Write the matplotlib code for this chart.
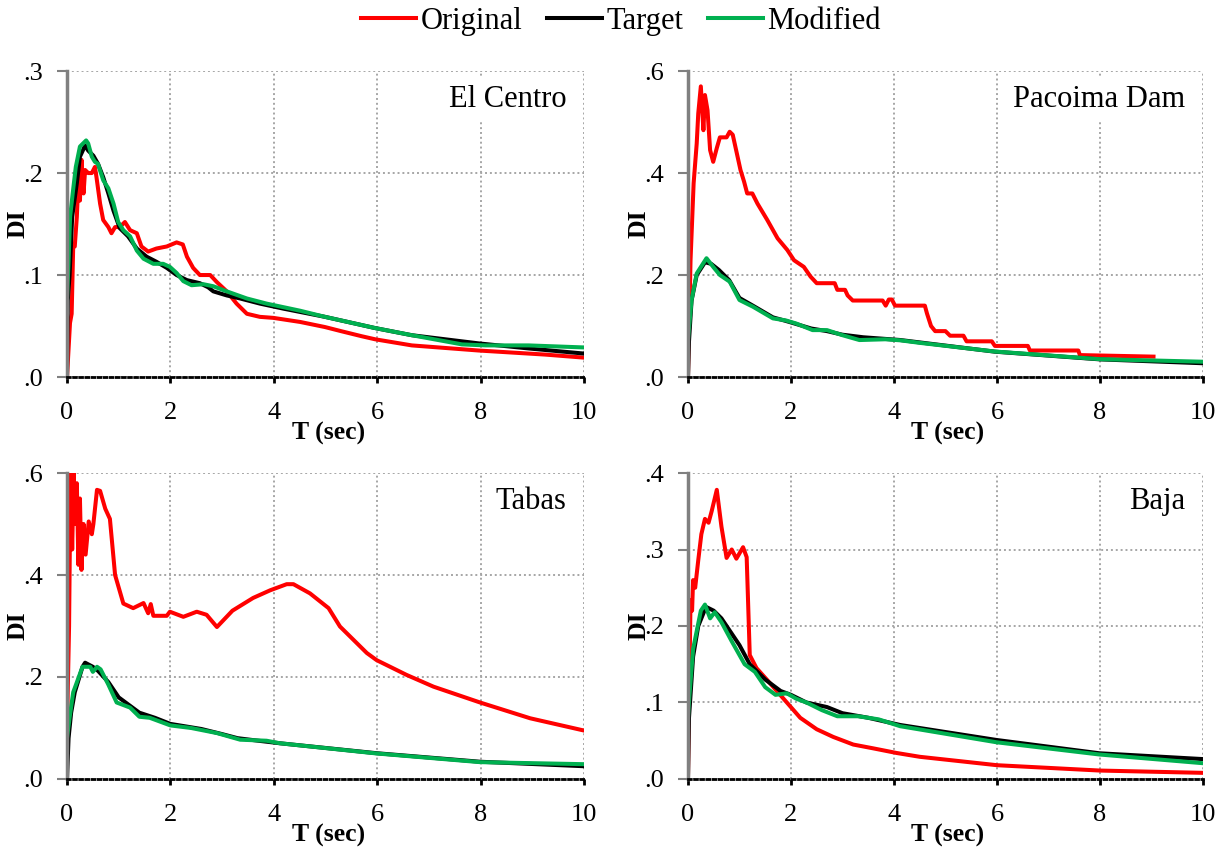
import matplotlib
matplotlib.use("Agg")
import matplotlib.pyplot as plt
from matplotlib.lines import Line2D
from matplotlib.ticker import FuncFormatter

plt.rcParams['font.family'] = ['Liberation Serif', 'DejaVu Serif']

# ---- El Centro ----
elc_orig_x = [0, 0.058, 0.09, 0.12, 0.15, 0.19, 0.22, 0.25, 0.28, 0.32, 0.35, 0.41, 0.48, 0.54, 0.57,
              0.64, 0.7, 0.8, 0.86, 0.93, 1.02, 1.12, 1.22, 1.35, 1.44, 1.57, 1.73, 1.93, 2.12, 2.24,
              2.32, 2.44, 2.57, 2.77, 2.9, 3.09, 3.28, 3.48, 3.73, 3.99, 4.25, 4.51, 4.99, 5.3, 5.7,
              5.96, 6.67, 7.96, 9.25, 10]
elc_orig_y = [0, 0.053, 0.062, 0.128, 0.128, 0.157, 0.193, 0.173, 0.213, 0.18, 0.203, 0.2, 0.2, 0.206, 0.196,
              0.17, 0.154, 0.147, 0.141, 0.147, 0.147, 0.152, 0.144, 0.141, 0.128, 0.123, 0.126, 0.128, 0.132, 0.13,
              0.118, 0.107, 0.1, 0.1, 0.093, 0.084, 0.072, 0.062, 0.059, 0.058, 0.056, 0.054, 0.049, 0.045, 0.04,
              0.037, 0.031, 0.026, 0.022, 0.019]
elc_targ_x = [0, 0.015, 0.05, 0.1, 0.19, 0.25, 0.35, 0.41, 0.51, 0.6, 0.7, 0.8, 0.9, 1.02, 1.18, 1.35,
              1.54, 1.73, 1.93, 2.12, 2.32, 2.57, 2.73, 2.83, 3.09, 3.35, 3.73, 4.19, 4.99, 5.96, 6.67,
              7.96, 8.93, 10]
elc_targ_y = [0, 0.075, 0.1, 0.157, 0.19, 0.216, 0.227, 0.222, 0.217, 0.209, 0.196, 0.18, 0.163, 0.146, 0.138, 0.126,
              0.118, 0.113, 0.107, 0.1, 0.095, 0.092, 0.088, 0.084, 0.08, 0.077, 0.072, 0.067, 0.059, 0.048, 0.041,
              0.033, 0.028, 0.023]
elc_mod_x = [0, 0.03, 0.06, 0.11, 0.17, 0.25, 0.37, 0.41, 0.48, 0.54, 0.6, 0.7, 0.8, 0.9, 0.99, 1.09,
             1.22, 1.35, 1.48, 1.67, 1.86, 1.99, 2.12, 2.25, 2.41, 2.64, 2.83, 3.09, 3.48, 3.86, 4.51,
             4.99, 5.96, 6.67, 7.64, 8.1, 8.93, 10]
elc_mod_y = [0.077, 0.113, 0.157, 0.18, 0.206, 0.226, 0.232, 0.229, 0.216, 0.211, 0.209, 0.193, 0.185, 0.17, 0.152, 0.144,
             0.138, 0.124, 0.116, 0.111, 0.111, 0.108, 0.102, 0.094, 0.09, 0.091, 0.089, 0.084, 0.077, 0.072, 0.065,
             0.059, 0.048, 0.041, 0.032, 0.031, 0.031, 0.029]

# ---- Pacoima Dam ----
pac_orig_x = [0, 0.05, 0.11, 0.17, 0.2, 0.25, 0.3, 0.33, 0.38, 0.43, 0.49, 0.56, 0.62, 0.75, 0.81, 0.87,
              1.02, 1.09, 1.15, 1.25, 1.35, 1.54, 1.74, 1.93, 2.06, 2.25, 2.38, 2.5, 2.85, 2.9, 3.05,
              3.1, 3.2, 3.78, 3.84, 3.9, 3.96, 4.02, 4.6, 4.64, 4.72, 4.8, 5.0, 5.09, 5.35, 5.41, 5.9,
              5.96, 6.6, 6.64, 7.58, 7.61, 9.04]
pac_orig_y = [0, 0.229, 0.38, 0.458, 0.517, 0.57, 0.484, 0.553, 0.523, 0.445, 0.422, 0.449, 0.47, 0.47, 0.481, 0.475,
              0.406, 0.383, 0.36, 0.36, 0.34, 0.308, 0.272, 0.249, 0.229, 0.216, 0.197, 0.184, 0.184, 0.171, 0.171,
              0.16, 0.15, 0.15, 0.14, 0.152, 0.152, 0.14, 0.14, 0.125, 0.1, 0.09, 0.09, 0.081, 0.081, 0.07, 0.07,
              0.061, 0.061, 0.052, 0.052, 0.043, 0.04]
pac_targ_x = [0, 0.02, 0.07, 0.17, 0.33, 0.45, 0.6, 0.8, 1.0, 1.26, 1.65, 1.9, 2.4, 2.7, 3.0, 3.4, 3.8,
              4.12, 5.96, 8.0, 10]
pac_targ_y = [0, 0.07, 0.15, 0.2, 0.225, 0.222, 0.21, 0.19, 0.155, 0.14, 0.117, 0.11, 0.095, 0.09, 0.083, 0.078, 0.075,
              0.0726, 0.0497, 0.0346, 0.027]
pac_mod_x = [0, 0.07, 0.17, 0.36, 0.49, 0.62, 0.81, 1.0, 1.26, 1.65, 1.9, 2.1, 2.42, 2.7, 3.0, 3.33,
             3.83, 4.12, 4.5, 5.96, 8.0, 10]
pac_mod_y = [0.0725, 0.151, 0.203, 0.233, 0.216, 0.2, 0.187, 0.151, 0.138, 0.115, 0.111, 0.105, 0.092, 0.092, 0.082, 0.0725,
             0.074, 0.072, 0.067, 0.05, 0.035, 0.03]

# ---- Tabas ----
tab_orig_x = [0, 0.04, 0.07, 0.1, 0.13, 0.16, 0.19, 0.22, 0.25, 0.28, 0.32, 0.36, 0.42, 0.48, 0.51, 0.58,
              0.64, 0.74, 0.83, 0.93, 1.09, 1.28, 1.48, 1.57, 1.62, 1.67, 1.93, 1.99, 2.25, 2.51, 2.7,
              2.9, 3.2, 3.6, 3.93, 4.25, 4.38, 4.7, 5.06, 5.28, 5.8, 5.99, 6.57, 7.09, 7.99, 8.96, 10]
tab_orig_y = [0.1, 0.3, 0.62, 0.45, 0.6, 0.5, 0.58, 0.42, 0.55, 0.41, 0.5, 0.44, 0.505, 0.48, 0.5, 0.567,
              0.565, 0.53, 0.51, 0.4, 0.344, 0.335, 0.345, 0.325, 0.343, 0.32, 0.32, 0.328, 0.318, 0.328, 0.322,
              0.298, 0.33, 0.355, 0.37, 0.382, 0.382, 0.364, 0.335, 0.299, 0.247, 0.233, 0.204, 0.181, 0.15, 0.119, 0.095]
tab_targ_x = [0, 0.03, 0.08, 0.15, 0.3, 0.35, 0.5, 0.6, 0.8, 1.0, 1.2, 1.4, 1.7, 2.0, 2.3, 2.6, 3.0,
              3.3, 3.7, 4.12, 5.99, 7.99, 10]
tab_targ_y = [0, 0.08, 0.13, 0.17, 0.22, 0.228, 0.22, 0.212, 0.19, 0.16, 0.145, 0.13, 0.12, 0.108, 0.103, 0.098, 0.088,
              0.08, 0.075, 0.07, 0.0505, 0.0338, 0.025]
tab_mod_x = [0, 0.05, 0.12, 0.3, 0.45, 0.5, 0.58, 0.65, 0.8, 0.96, 1.22, 1.4, 1.6, 2.0, 2.4, 2.9, 3.35,
             3.86, 4.12, 5.99, 7.99, 10]
tab_mod_y = [0.08, 0.12, 0.17, 0.22, 0.22, 0.21, 0.22, 0.215, 0.185, 0.15, 0.14, 0.122, 0.12, 0.105, 0.1, 0.09, 0.077,
             0.075, 0.07, 0.05, 0.033, 0.029]

# ---- Baja ----
baj_orig_x = [0, 0.05, 0.08, 0.1, 0.14, 0.2, 0.26, 0.33, 0.4, 0.46, 0.56, 0.65, 0.75, 0.85, 0.94, 1.07,
              1.14, 1.2, 1.33, 1.53, 1.66, 1.92, 2.18, 2.5, 2.82, 3.21, 3.6, 4.05, 4.5, 6.0, 8.0, 10]
baj_orig_y = [0, 0.234, 0.22, 0.26, 0.25, 0.286, 0.32, 0.34, 0.335, 0.35, 0.378, 0.33, 0.289, 0.3, 0.288, 0.303,
              0.29, 0.162, 0.145, 0.13, 0.12, 0.1, 0.08, 0.065, 0.055, 0.045, 0.04, 0.034, 0.029, 0.018, 0.011, 0.008]
baj_targ_x = [0, 0.02, 0.1, 0.2, 0.35, 0.5, 0.65, 0.8, 1.0, 1.2, 1.5, 1.8, 2.0, 2.3, 2.7, 3.0, 3.5,
              4.12, 5.99, 7.99, 10]
baj_targ_y = [0, 0.08, 0.16, 0.2, 0.225, 0.22, 0.21, 0.195, 0.175, 0.15, 0.13, 0.115, 0.11, 0.1, 0.094, 0.086, 0.08,
              0.0706, 0.051, 0.0336, 0.026]
baj_mod_x = [0, 0.03, 0.1, 0.25, 0.33, 0.43, 0.52, 0.65, 0.85, 1.1, 1.3, 1.5, 1.7, 1.92, 2.1, 2.3, 2.6,
             2.9, 3.3, 3.7, 4.12, 5.99, 7.99, 10]
baj_mod_y = [0.08, 0.11, 0.17, 0.22, 0.228, 0.21, 0.218, 0.205, 0.18, 0.15, 0.14, 0.12, 0.11, 0.112, 0.105, 0.1, 0.09,
             0.082, 0.082, 0.078, 0.069, 0.048, 0.032, 0.0206]

names = ["El Centro", "Pacoima Dam", "Tabas", "Baja"]
y_max = [0.3, 0.6, 0.6, 0.4]
y_step = [0.1, 0.2, 0.2, 0.1]
x_ticks = [0, 2, 4, 6, 8, 10]

panels = [
    (elc_orig_x, elc_orig_y, elc_targ_x, elc_targ_y, elc_mod_x, elc_mod_y),
    (pac_orig_x, pac_orig_y, pac_targ_x, pac_targ_y, pac_mod_x, pac_mod_y),
    (tab_orig_x, tab_orig_y, tab_targ_x, tab_targ_y, tab_mod_x, tab_mod_y),
    (baj_orig_x, baj_orig_y, baj_targ_x, baj_targ_y, baj_mod_x, baj_mod_y),
]

RED = "#FF0000"
GREEN = "#00B050"

fig = plt.figure(figsize=(12.25, 8.48), dpi=100)
rects = [
    [0.0547, 0.5554, 0.422, 0.3608],
    [0.5616, 0.5554, 0.4204, 0.3608],
    [0.0547, 0.0814, 0.422, 0.3608],
    [0.5616, 0.0814, 0.4204, 0.3608],
]

for i, ax_rect in enumerate(rects):
    ax = fig.add_axes(ax_rect)
    ox, oy, tx, ty, mx, my = panels[i]
    ax.plot(ox, oy, color=RED, lw=2.9, solid_joinstyle='round')
    ax.plot(tx, ty, color="black", lw=2.9, solid_joinstyle='round')
    ax.plot(mx, my, color=GREEN, lw=2.9, solid_joinstyle='round')

    ax.set_xlim(0, 10)
    ax.set_ylim(0, y_max[i])
    ax.set_xticks(x_ticks)
    n = int(round(y_max[i] / y_step[i]))
    ax.set_yticks([k * y_step[i] for k in range(n + 1)])
    ax.yaxis.set_major_formatter(FuncFormatter(lambda v, p: f"{v:.1f}".lstrip("0")))

    ax.grid(True, color="#A6A6A6", linestyle=(0, (1, 1.5)), linewidth=1.4)
    ax.set_axisbelow(True)
    for s in ["top", "right"]:
        ax.spines[s].set_visible(False)
    ax.spines["left"].set_color("#808080")
    ax.spines["left"].set_linewidth(2.5)
    ax.spines["bottom"].set_color("black")
    ax.spines["bottom"].set_linestyle((0, (1, 1.2)))
    ax.spines["bottom"].set_linewidth(2)

    ax.tick_params(axis="y", direction="out", length=7, width=1.5, color="#808080",
                   labelsize=19, labelcolor="black", pad=10)
    ax.tick_params(axis="x", direction="out", length=4, width=2, color="black",
                   labelsize=19, pad=14)

    ax.text(-0.095, 0.5, "DI", transform=ax.transAxes, rotation=90, ha="center", va="center",
            fontsize=18.5, fontweight="bold")
    ax.text(0.505, -0.206, "T (sec)", transform=ax.transAxes, ha="center", va="baseline",
            fontsize=18.5, fontweight="bold")
    ax.text(0.966, 0.906, names[i], transform=ax.transAxes, ha="right", va="center", fontsize=22,
            bbox=dict(boxstyle="square,pad=0.25", fc="white", ec="none"))

handles = [Line2D([], [], color=RED, lw=2.9),
           Line2D([], [], color="black", lw=2.9),
           Line2D([], [], color=GREEN, lw=2.9)]
fig.legend(handles, ["Original", "Target", "Modified"], loc="center", bbox_to_anchor=(0.507, 0.975),
           ncol=3, frameon=False, fontsize=22, handlelength=1.8, handletextpad=0.15,
           columnspacing=0.8, borderaxespad=0)

fig.savefig("out.png", dpi=100)
